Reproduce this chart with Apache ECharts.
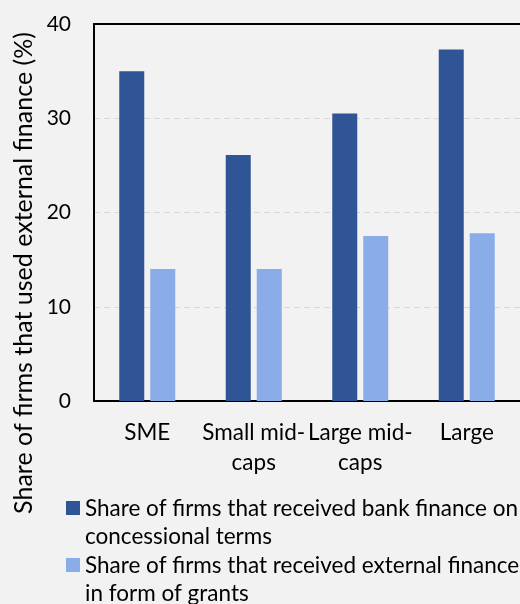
<!DOCTYPE html>
<html>
<head>
<meta charset="utf-8">
<script src="https://cdn.jsdelivr.net/npm/echarts@6/dist/echarts.min.js"></script>
<style>
  html, body { margin: 0; padding: 0; background: #F2F2F2; }
  #chart { width: 520px; height: 604px; }
</style>
</head>
<body>
<div id="chart"></div>
<script>
// Firm size classes on the x axis
const categories = ['SME', 'Small mid-caps', 'Large mid-caps', 'Large'];
// Share of firms (%) per size class
const bankConcessional = [35, 26.1, 30.5, 37.3];
const grants = [14, 14, 17.5, 17.8];
// Y axis ticks
const yTicks = [0, 10, 20, 30, 40];

const seriesNames = [
  'Share of firms that received bank finance on concessional terms',
  'Share of firms that received external finance in form of grants'
];
const legendText = {
  [seriesNames[0]]: 'Share of firms that received bank finance on\nconcessional terms',
  [seriesNames[1]]: 'Share of firms that received external finance\nin form of grants'
};

const FONT = 'Lato';
const chart = echarts.init(document.getElementById('chart'), null, { renderer: 'canvas' });

chart.setOption({
  backgroundColor: '#F2F2F2',
  animation: false,
  textStyle: { fontFamily: FONT },
  grid: { left: 94, top: 24, width: 436.5, bottom: 203, containLabel: false },
  xAxis: [{
    type: 'category',
    data: categories,
    axisLine: { lineStyle: { color: '#000', width: 2 } },
    axisTick: { show: false },
    axisLabel: {
      color: '#000', fontSize: 22.5, fontFamily: FONT, lineHeight: 30, margin: 17,
      interval: 0,
      formatter: v => v.replace('mid-', 'mid-\n')
    }
  }, {
    type: 'category',
    data: categories,
    position: 'top',
    axisLine: { lineStyle: { color: '#000', width: 2 } },
    axisTick: { show: false },
    axisLabel: { show: false }
  }],
  yAxis: {
    type: 'value',
    min: yTicks[0],
    max: yTicks[yTicks.length - 1],
    interval: yTicks[1] - yTicks[0],
    axisLine: { show: true, lineStyle: { color: '#000', width: 2 } },
    axisTick: { show: false },
    axisLabel: { color: '#000', fontSize: 21, fontFamily: FONT, margin: 23 },
    splitLine: { lineStyle: { color: '#D9D9D9', type: [6, 4], width: 1 } }
  },
  graphic: [{
    type: 'text',
    x: 23.5, y: 273,
    rotation: Math.PI / 2,
    style: {
      text: 'Share of firms that used external finance (%)',
      fill: '#000', fontSize: 25, fontFamily: FONT,
      align: 'center', verticalAlign: 'middle'
    }
  }],
  legend: {
    orient: 'vertical',
    left: 66,
    top: 494,
    height: 140,
    padding: 0,
    itemGap: 0,
    itemWidth: 14,
    itemHeight: 57,
    icon: 'path://M0,0M14,57M0,7H14V21H0Z',
    data: seriesNames,
    formatter: n => legendText[n],
    textStyle: { color: '#000', fontSize: 22.5, fontFamily: FONT, lineHeight: 28.5 },
    itemStyle: { borderWidth: 0 }
  },
  series: [{
    name: seriesNames[0],
    type: 'bar',
    data: bankConcessional,
    barWidth: 25,
    barGap: '24%',
    itemStyle: { color: '#2F5597' }
  }, {
    name: seriesNames[1],
    type: 'bar',
    data: grants,
    barWidth: 25,
    itemStyle: { color: '#8AADEA' }
  }]
});
</script>
</body>
</html>
